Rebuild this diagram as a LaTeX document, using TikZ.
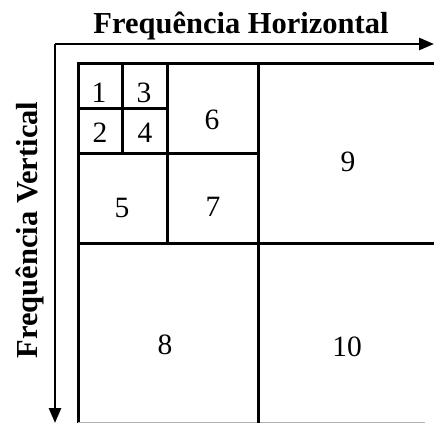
\documentclass[tikz,border=0pt]{standalone}
\usepackage{fontspec}
\setmainfont{Liberation Serif}
\usetikzlibrary{arrows.meta}
\begin{document}
\begin{tikzpicture}[x=1pt,y=-1pt,
  gridline/.style={line width=3pt, line cap=rect},
  axisline/.style={line width=2.6pt, -{Triangle[length=15pt,width=12pt]}},
  num/.style={font=\fontsize{29.5}{29.5}\selectfont, inner sep=0pt, anchor=center},
  lab/.style={font=\bfseries\fontsize{30.5}{30.5}\selectfont, inner sep=0pt, anchor=base}]
\useasboundingbox (0,0) rectangle (434,423);
% axes
\coordinate (o) at (55,44);
\coordinate (xe) at (434,44);
\coordinate (ye) at (55,423);
\draw[axisline] (o) -- (xe);
\draw[axisline] (o) -- (ye);
\node[lab] (th) at (241,33) {Frequência Horizontal};
\node[lab, rotate=90] (tv) at (37,230) {Frequência Vertical};
% grid
\draw[gridline] (78,63) -- (434,63);
\draw[gridline] (78,63) -- (78,423);
\draw[line width=1pt, gray!60] (78,422) -- (425,422);
\draw[gridline] (122,63) -- (122,153);
\draw[gridline] (167,63) -- (167,243);
\draw[gridline] (258,63) -- (258,423);
\draw[gridline] (78,108) -- (167,108);
\draw[gridline] (78,153) -- (258,153);
\draw[gridline] (78,243) -- (434,243);
% numbers
\node[num] (n1) at (99,93) {1};
\node[num] (n3) at (144,93) {3};
\node[num] (n2) at (100,133) {2};
\node[num] (n4) at (145,133) {4};
\node[num] (n6) at (212,120) {6};
\node[num] (n5) at (122,208) {5};
\node[num] (n7) at (213,207) {7};
\node[num] (n9) at (348,162) {9};
\node[num] (n8) at (165,345) {8};
\node[num] (n10) at (347,347) {10};
\end{tikzpicture}
\end{document}
